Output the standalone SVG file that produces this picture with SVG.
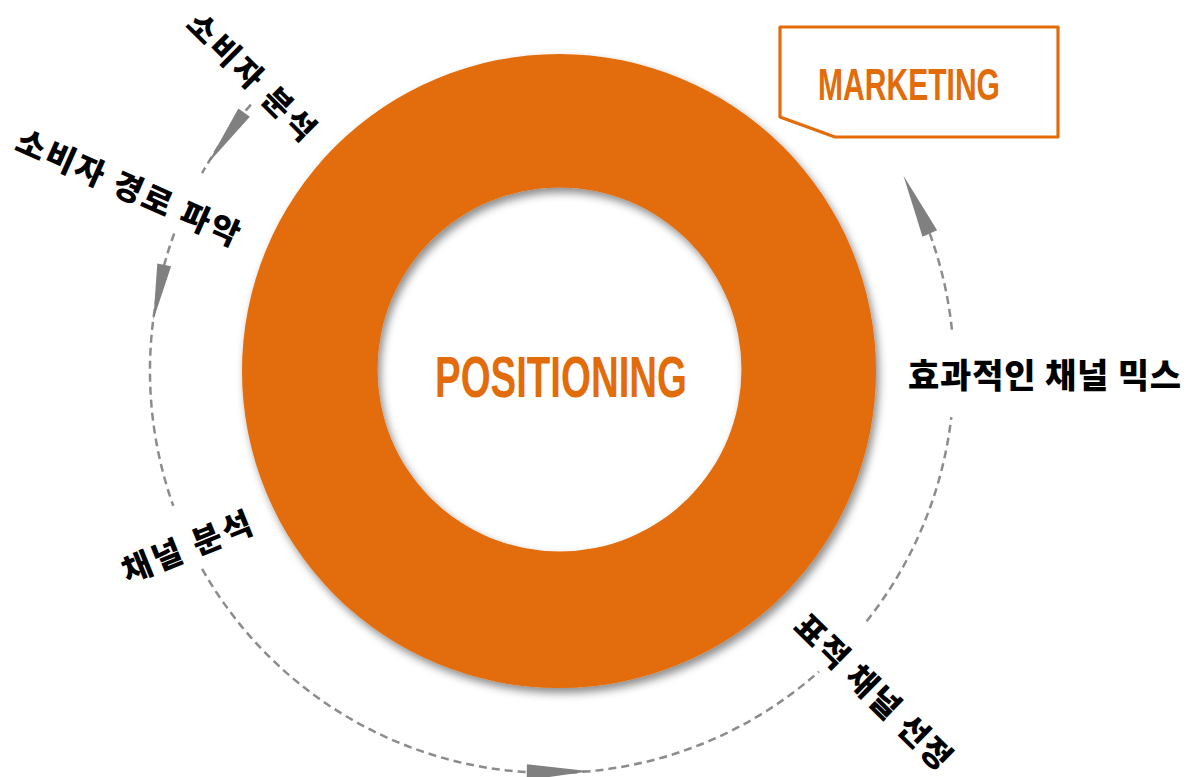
<svg xmlns="http://www.w3.org/2000/svg" width="1188" height="777" viewBox="0 0 1188 777">
  <style>
    .lbl { font-family: "Noto Sans CJK KR", "Noto Sans", sans-serif; font-weight: 900; fill: #000; }
    .title { font-family: "Liberation Sans Narrow", "Liberation Sans", "Roboto", sans-serif; font-weight: 700; fill: #E36C0A; }
    .flow { fill: none; stroke: #8C8C8C; stroke-width: 2.5; stroke-dasharray: 8 5; }
    .head { fill: #808080; }
  </style>
  <defs>
    <filter id="shadow" x="-20%" y="-20%" width="140%" height="140%">
      <feDropShadow dx="3" dy="5" stdDeviation="4" flood-color="#000" flood-opacity="0.45"/>
    </filter>
  </defs>
  <rect width="1188" height="777" fill="#fff"/>

  <g id="connectors">
    <path class="flow" d="M250.9,104.6 A402,402 0 0 0 202.1,173.1"/>
    <path class="flow" d="M174.2,233.5 A402,402 0 0 0 173.3,505.9"/>
    <path class="flow" d="M202.1,568.9 A402,402 0 0 0 818.9,671.6"/>
    <path class="flow" d="M866.6,621.2 A402,402 0 0 0 951.3,417.2"/>
    <path class="flow" d="M951.9,329.7 A402,402 0 0 0 924.7,220.4"/>
    <polygon class="head" points="249.8,116.7 238.4,108.5 207.4,164.0"/>
    <polygon class="head" points="171.1,266.3 157.3,263.5 153.3,319.9"/>
    <polygon class="head" points="526.9,764.2 526.7,780.2 589.8,771.2"/>
    <polygon class="head" points="937.1,230.2 922.5,236.8 903.5,175.8"/>
  </g>

  <g id="positioning">
    <path fill="#E36C0A" fill-rule="evenodd" filter="url(#shadow)"
      d="M242,371 A317,317 0 1 0 876,371 A317,317 0 1 0 242,371 Z M377.5,369.5 A182,182 0 1 0 741.5,369.5 A182,182 0 1 0 377.5,369.5 Z"/>
    <text class="title" x="561" y="397" font-size="58" text-anchor="middle" textLength="252" lengthAdjust="spacingAndGlyphs">POSITIONING</text>
  </g>

  <g id="marketing">
    <path d="M780,27 L1058,27 L1058,137 L835,137 L780,117 Z" fill="#fff" stroke="#E36C0A" stroke-width="3.2" stroke-linejoin="round"/>
    <text class="title" x="818" y="100" font-size="45" textLength="182" lengthAdjust="spacingAndGlyphs">MARKETING</text>
  </g>

  <g id="label-consumer-analysis">
    <text class="lbl" x="253" y="75" font-size="31" text-anchor="middle" dominant-baseline="central" textLength="166" lengthAdjust="spacing" transform="rotate(44.7 253 75)">소비자 분석</text>
  </g>
  <g id="label-consumer-path">
    <text class="lbl" x="129" y="185.5" font-size="32" text-anchor="middle" dominant-baseline="central" textLength="241" lengthAdjust="spacing" transform="rotate(23.9 129 185.5)">소비자 경로 파악</text>
  </g>
  <g id="label-channel-analysis">
    <text class="lbl" x="186" y="545" font-size="32" text-anchor="middle" dominant-baseline="central" textLength="137" lengthAdjust="spacing" transform="rotate(-22 186 545)">채널 분석</text>
  </g>
  <g id="label-target-channel">
    <text class="lbl" x="875" y="690" font-size="32" text-anchor="middle" dominant-baseline="central" textLength="205" lengthAdjust="spacing" transform="rotate(44.5 875 690)">표적 채널 선정</text>
  </g>
  <g id="label-channel-mix">
    <text class="lbl" x="908" y="373" font-size="34" dominant-baseline="central" textLength="273" lengthAdjust="spacing">효과적인 채널 믹스</text>
  </g>
</svg>
